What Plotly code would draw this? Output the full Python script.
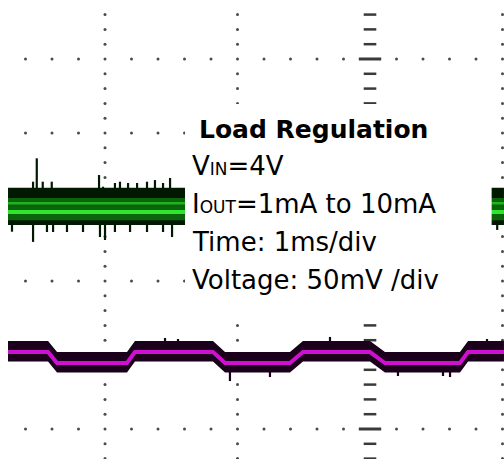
import plotly.graph_objects as go

# ---------------- data (time in ms, 1 ms/div; voltage in mV, 50 mV/div) ----------------
# Green channel (output ripple) : envelope levels
green_t = [-2.732, 1.011]
green_env_top = [13.0, 13.0]
green_env_bot = [-12.2, -12.2]
green_core_top = [6.0, 6.0]
green_core_bot = [-9.0, -9.0]
green_mid_line = [2.5, 2.5]
green_line = [-3.4, -3.4]

# green noise spikes
green_up_t = [-2.543, -2.515, -2.470, -2.402, -2.045, -2.015, -1.925, -1.887, -1.826, -1.758, -1.683, -1.623, -1.562, -1.509]
green_up_v = [17.1, 32.9, 17.1, 17.1, 21.6, 13.7, 16.2, 17.1, 16.2, 16.2, 17.1, 18.2, 16.2, 19.6]
green_dn_t = [-2.702, -2.543, -2.438, -2.392, -2.287, -2.166, -2.038, -2.000, -1.925, -1.811, -1.683, -1.562, -1.494, 0.960]
green_dn_v = [-16.7, -23.6, -16.9, -16.9, -16.9, -16.9, -20.3, -22.3, -16.9, -16.9, -16.9, -16.9, -20.3, -15.5]

# Magenta channel (load step) : step knots
mag_t = [-2.732, -2.430, -2.362, -1.834, -1.774, -1.185, -1.094, -0.604, -0.506, 0.000, 0.113, 0.679, 0.740, 1.011]
mag_v = [-98.0, -98.0, -105.4, -105.4, -98.0, -98.0, -105.4, -105.4, -98.0, -98.0, -105.4, -105.4, -98.0, -98.0]
mag_band_up = 7.4
mag_band_dn = 6.4
mag_spk_t = [-1.547, -1.449, -0.302, 0.883, -1.057, -0.755, 0.211, 0.551, 0.604]
mag_spk_v = [-88.5, -89.2, -87.8, -89.2, -117.6, -114.9, -114.2, -114.2, -114.9]

# screen graticule
grid_x = [-2, -1, 0, 1]                  # ms
grid_y = [100, 50, 0, -50, -100, -150]   # mV
center_x = 0
x_range = [-2.7925, 1.0113]
y_range = [-170.27, 139.86]

# annotation text
title_text = "<b>Load Regulation</b>"
info_lines = [
    'V<span style="font-size:17px">IN</span>=4V',
    'I<span style="font-size:17px">OUT</span>=1mA to 10mA',
    "Time: 1ms/div",
    "Voltage: 50mV /div",
]

# ---------------- figure ----------------
fig = go.Figure()

# graticule dots
dx, dy = 0.2, 10.0
vx, vy = [], []
for gx in grid_x:
    if gx == center_x:
        continue
    k = -20
    while k * dy <= y_range[1]:
        yy = k * dy
        if yy >= y_range[0]:
            vx.append(gx); vy.append(yy)
        k += 1
for gy in grid_y:
    k = -20
    while k * dx <= x_range[1] + 1e-9:
        xx = round(k * dx, 6)
        if xx >= x_range[0] and abs(xx - center_x) > 1e-6 and not any(abs(xx - g) < 1e-6 for g in grid_x):
            vx.append(xx); vy.append(gy)
        k += 1
fig.add_trace(go.Scatter(x=vx, y=vy, mode="markers", hoverinfo="skip",
                         marker=dict(size=3, color="#4a4a4a"), showlegend=False))

# center line dashes
cdx, cdy, ldx, ldy = [], [], [], []
k = -20
while k * dy <= y_range[1]:
    yy = k * dy
    if yy >= y_range[0]:
        if any(abs(yy - g) < 1e-6 for g in grid_y):
            ldx.append(center_x); ldy.append(yy)
        else:
            cdx.append(center_x); cdy.append(yy)
    k += 1
fig.add_trace(go.Scatter(x=cdx, y=cdy, mode="markers", hoverinfo="skip", showlegend=False,
                         marker=dict(symbol="line-ew", size=9, line=dict(width=2.5, color="#3a3a3a"))))
fig.add_trace(go.Scatter(x=ldx, y=ldy, mode="markers", hoverinfo="skip", showlegend=False,
                         marker=dict(symbol="line-ew", size=16, line=dict(width=3, color="#3a3a3a"))))

# ---- green trace ----
black_g = "#011801"
fig.add_trace(go.Scatter(x=green_t, y=green_env_top, mode="lines", line=dict(width=0, color=black_g),
                         showlegend=False, hoverinfo="skip"))
fig.add_trace(go.Scatter(x=green_t, y=green_env_bot, mode="lines", line=dict(width=0, color=black_g),
                         fill="tonexty", fillcolor=black_g, showlegend=False, hoverinfo="skip"))
sx, sy = [], []
for t, v in zip(green_up_t, green_up_v):
    sx += [t, t, None]; sy += [0, v, None]
for t, v in zip(green_dn_t, green_dn_v):
    sx += [t, t, None]; sy += [0, v, None]
fig.add_trace(go.Scatter(x=sx, y=sy, mode="lines", line=dict(width=2.2, color=black_g),
                         showlegend=False, hoverinfo="skip"))
fig.add_trace(go.Scatter(x=green_t, y=green_core_top, mode="lines", line=dict(width=0),
                         showlegend=False, hoverinfo="skip"))
fig.add_trace(go.Scatter(x=green_t, y=green_core_bot, mode="lines", line=dict(width=0),
                         fill="tonexty", fillcolor="#0b640b", showlegend=False, hoverinfo="skip"))
fig.add_trace(go.Scatter(x=green_t, y=green_mid_line, mode="lines", line=dict(width=2.5, color="#1fb41f"),
                         showlegend=False, hoverinfo="skip"))
fig.add_trace(go.Scatter(x=green_t, y=green_line, mode="lines", line=dict(width=4, color="#2ee62e"),
                         showlegend=False, hoverinfo="skip"))

# ---- magenta trace ----
black_m = "#1a001a"
fig.add_trace(go.Scatter(x=mag_t, y=[v + mag_band_up for v in mag_v], mode="lines",
                         line=dict(width=0, color=black_m), showlegend=False, hoverinfo="skip"))
fig.add_trace(go.Scatter(x=mag_t, y=[v - mag_band_dn for v in mag_v], mode="lines",
                         line=dict(width=0, color=black_m), fill="tonexty", fillcolor=black_m,
                         showlegend=False, hoverinfo="skip"))
mx, my = [], []
for t, v in zip(mag_spk_t, mag_spk_v):
    mx += [t, t, None]; my += [-101.0, v, None]
fig.add_trace(go.Scatter(x=mx, y=my, mode="lines", line=dict(width=2.2, color=black_m),
                         showlegend=False, hoverinfo="skip"))
fig.add_trace(go.Scatter(x=mag_t, y=mag_v, mode="lines", line=dict(width=4, color="#d010d0"),
                         showlegend=False, hoverinfo="skip"))

# white label box
fig.add_shape(type="rect", x0=-1.396, x1=0.918, y0=-74.3, y1=69.6, xref="x", yref="y",
              layer="above", fillcolor="white", line=dict(width=0))

W, H = 504, 459
font_title = dict(family="DejaVu Sans", size=25, color="#000000")
font = dict(family="DejaVu Sans", size=26, color="#000000")
fig.add_annotation(text=title_text, xref="paper", yref="paper", x=197 / W, y=1 - 129 / H,
                   xanchor="left", yanchor="middle", showarrow=False, font=font_title)
centers = [166, 204, 242, 280]
for line, cy in zip(info_lines, centers):
    fig.add_annotation(text=line, xref="paper", yref="paper", x=190 / W, y=1 - cy / H,
                       xanchor="left", yanchor="middle", showarrow=False, font=font)

fig.update_layout(
    width=W, height=H, margin=dict(l=0, r=0, t=0, b=0),
    paper_bgcolor="white", plot_bgcolor="white", showlegend=False,
    xaxis=dict(range=x_range, visible=False, fixedrange=True),
    yaxis=dict(range=y_range, visible=False, fixedrange=True),
)
fig.write_html("out.html", config={"displayModeBar": False},
               post_script="document.body.style.margin='0';document.body.style.padding='0';document.body.style.overflow='hidden';")
